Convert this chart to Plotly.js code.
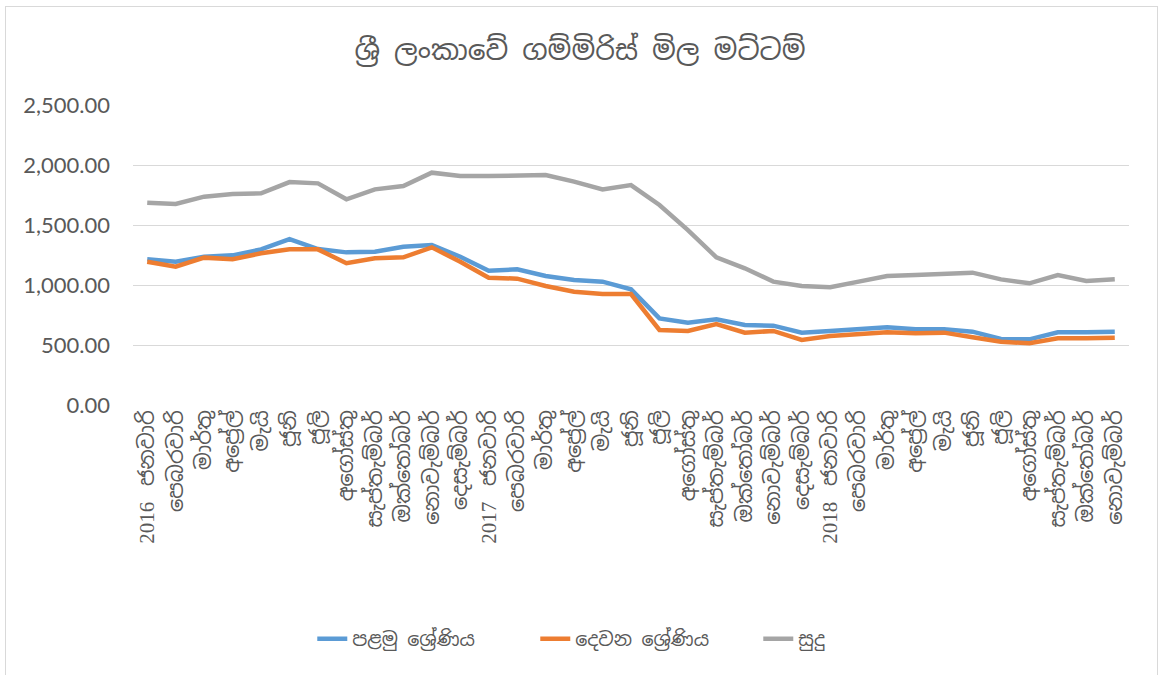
<!DOCTYPE html>
<html>
<head>
<meta charset="utf-8">
<script src="https://cdn.plot.ly/plotly-3.0.1.min.js"></script>
<style>
  body { margin: 0; background: #fff; }
  #chart { position: absolute; left: 0; top: 0; width: 1160px; height: 675px; }
  #frame { position: absolute; left: 5px; top: 6px; width: 1151px; height: 680px;
           border: 1px solid #d9d9d9; pointer-events: none; }
</style>
</head>
<body>
<div id="chart"></div>
<div id="frame"></div>
<script>
// months Jan 2016 .. Nov 2018
var monthNames = ["ජනවාරි", "පෙබරවාරි", "මාර්තු", "අප්‍රේල්", "මැයි", "ජූනි",
  "ජූලි", "අගෝස්තු", "සැප්තැම්බර්", "ඔක්තෝබර්", "නොවැම්බර්", "දෙසැම්බර්"];
var years = ["2016", "2017", "2018"];
var monthCount = 35;

// price per kg (Rs.)
var grade1 = [1214, 1194, 1236, 1247, 1297, 1383, 1300, 1272, 1278, 1319, 1333, 1236,
  1119, 1131, 1075, 1042, 1028, 964, 722, 686, 714, 667, 661, 603,
  617, 631, 647, 631, 631, 611, 550, 547, 606, 606, 611];
var grade2 = [1194, 1153, 1228, 1214, 1264, 1297, 1297, 1181, 1222, 1231, 1314, 1194,
  1061, 1053, 992, 944, 925, 925, 625, 617, 675, 603, 617, 542,
  575, 592, 606, 597, 603, 564, 528, 514, 556, 556, 561];
var white = [1686, 1675, 1736, 1758, 1764, 1858, 1847, 1714, 1797, 1825, 1936, 1908,
  1908, 1917, 1917, 1861, 1797, 1833, 1667, 1458, 1231, 1139, 1028, 992,
  981, 1028, 1075, 1083, 1092, 1103, 1047, 1014, 1083, 1033, 1047];

var xIdx = [];
var tickText = [];
for (var i = 0; i < monthCount; i++) {
  xIdx.push(i);
  var m = i % 12;
  if (m === 0) {
    tickText.push(years[i / 12] + "\u00a0\u00a0\u00a0" + monthNames[m]);
  } else {
    tickText.push(monthNames[m]);
  }
}

var lineFont = "Noto Sans Sinhala, Iskoola Pota, Noto Sans, sans-serif";

var traces = [
  { x: xIdx, y: grade1, name: "පළමු ශ්‍රේණිය", mode: "lines", type: "scatter",
    line: { color: "#5b9bd5", width: 4.5 } },
  { x: xIdx, y: grade2, name: "දෙවන ශ්‍රේණිය", mode: "lines", type: "scatter",
    line: { color: "#ed7d31", width: 4.5 } },
  { x: xIdx, y: white, name: "සුදු", mode: "lines", type: "scatter",
    line: { color: "#a5a5a5", width: 4.5 } },
];

var layout = {
  width: 1160,
  height: 675,
  margin: { l: 133, r: 31, t: 105, b: 270 },
  paper_bgcolor: "#ffffff",
  plot_bgcolor: "#ffffff",
  showlegend: true,
  title: {
    text: "ශ්‍රී ලංකාවේ ගම්මිරිස් මිල මට්ටම්",
    font: { family: lineFont, size: 28, color: "#595959" },
    x: 0.5, xanchor: "center", y: 0.925, yanchor: "middle",
  },
  xaxis: {
    range: [-0.5, 34.5],
    tickvals: xIdx,
    ticktext: tickText,
    tickangle: -90,
    tickfont: { family: "Liberation Serif, " + lineFont, size: 21, color: "#595959" },
    showgrid: false,
    zeroline: false,
    showline: false,
    ticks: "",
  },
  yaxis: {
    range: [0, 2500],
    dtick: 500,
    tickformat: ",.2f",
    tickfont: { family: "Lato, Open Sans, sans-serif", size: 22, color: "#595959" },
    gridcolor: "#d9d9d9",
    gridwidth: 1.3,
    zeroline: false,
    showline: false,
    ticks: "",
    ticklabelstandoff: 22,
  },
  legend: {
    orientation: "h",
    x: 0.18, xanchor: "left",
    y: -0.78, yanchor: "middle",
    font: { family: lineFont, size: 19, color: "#595959" },
    entrywidth: 178,
    entrywidthmode: "pixels",
    traceorder: "normal",
  },
};

Plotly.newPlot("chart", traces, layout, { displayModeBar: false });
</script>
</body>
</html>
